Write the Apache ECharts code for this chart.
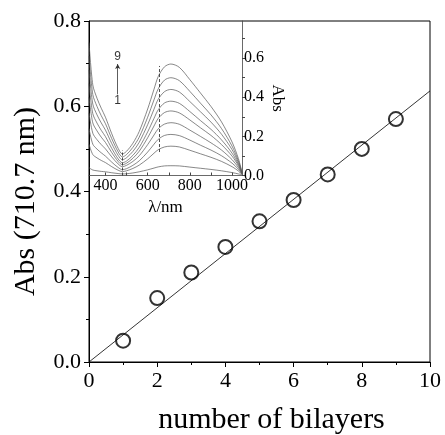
<!DOCTYPE html>
<html><head><meta charset="utf-8">
<script src="https://cdn.jsdelivr.net/npm/echarts@6/dist/echarts.min.js"></script>
<style>html,body{margin:0;padding:0;background:#fff}#c{width:445px;height:435px}</style>
</head><body><div id="c"></div>
<script>
// Main plot data
const bilayers = [1, 2, 3, 4, 5, 6, 7, 8, 9];
const absAt710 = [0.05, 0.15, 0.21, 0.27, 0.33, 0.38, 0.44, 0.50, 0.57];
const fitLine = [[0, 0], [10, 0.636]];

// Inset spectra data
const wavelengths = [322, 340, 360, 380, 400, 430, 460, 480, 500, 530, 560, 600, 630, 650, 680, 710, 750, 800, 850, 900, 950, 1000, 1030, 1047];
const spec1 = [0.040,0.028,0.024,0.021,0.019,0.014,0.010,0.008, 0.009,0.013,0.019,0.029,0.038,0.044,0.049,0.050, 0.049,0.043,0.037,0.031,0.024,0.015,0.008,0.004];
const spec2 = [0.160,0.107,0.090,0.077,0.066,0.045,0.027,0.020, 0.024,0.036,0.053,0.085,0.114,0.132,0.146,0.150, 0.146,0.129,0.111,0.093,0.072,0.045,0.023,0.005];
const spec3 = [0.240,0.160,0.135,0.116,0.099,0.068,0.041,0.030, 0.035,0.052,0.075,0.120,0.160,0.185,0.205,0.210, 0.204,0.181,0.155,0.130,0.101,0.063,0.032,0.006];
const spec4 = [0.320,0.216,0.183,0.158,0.136,0.095,0.059,0.045, 0.052,0.072,0.101,0.158,0.207,0.239,0.263,0.270, 0.262,0.232,0.200,0.167,0.130,0.081,0.041,0.008];
const spec5 = [0.400,0.269,0.228,0.196,0.169,0.117,0.072,0.055, 0.063,0.088,0.124,0.193,0.253,0.292,0.322,0.330, 0.320,0.284,0.244,0.205,0.158,0.099,0.050,0.010];
const spec6 = [0.470,0.316,0.268,0.231,0.199,0.138,0.085,0.065, 0.074,0.103,0.144,0.223,0.292,0.336,0.371,0.380, 0.369,0.327,0.281,0.236,0.182,0.114,0.057,0.011];
const spec7 = [0.540,0.365,0.310,0.269,0.232,0.163,0.103,0.080, 0.091,0.123,0.170,0.260,0.339,0.390,0.429,0.440, 0.427,0.378,0.326,0.273,0.211,0.132,0.066,0.013];
const spec8 = [0.610,0.414,0.353,0.306,0.265,0.188,0.121,0.095, 0.107,0.144,0.196,0.298,0.387,0.443,0.488,0.500, 0.485,0.430,0.370,0.310,0.240,0.150,0.075,0.015];
const spec9 = [0.680,0.463,0.395,0.344,0.298,0.213,0.139,0.110, 0.124,0.165,0.225,0.340,0.441,0.506,0.556,0.570, 0.553,0.490,0.422,0.353,0.274,0.171,0.086,0.017];
const spectra = [spec1, spec2, spec3, spec4, spec5, spec6, spec7, spec8, spec9];
const insetXLabels = [400, 600, 800, 1000];
const insetXTicks = [400, 500, 600, 700, 800, 900, 1000];
const insetYLabels = [0.0, 0.2, 0.4, 0.6];
const insetYTicks = [0.0, 0.1, 0.2, 0.3, 0.4, 0.5, 0.6, 0.7];
const arrowX = 458;
const arrowFrom = 0.415, arrowTo = 0.57;
const labelTop = {x: 458, y: 0.61, text: '9'};
const labelBottom = {x: 458, y: 0.38, text: '1'};

const serif = '"Liberation Serif", "Times New Roman", serif';
const chart = echarts.init(document.getElementById('c'));

const spectraSeries = spectra.map((s, i) => ({
  type: 'line', xAxisIndex: 1, yAxisIndex: 1, smooth: 0.3, symbol: 'none',
  data: wavelengths.map((w, j) => [w, s[j]]),
  lineStyle: {color: '#555', width: 0.7}, silent: true, z: 3
}));

chart.setOption({
  animation: false,
  backgroundColor: '#fff',
  grid: [
    {left: 89, top: 21, width: 341, height: 341, show: true, borderColor: '#000', borderWidth: 1, backgroundColor: 'transparent', outerBoundsMode: 'none', containLabel: false},
    {left: 89, top: 21, width: 153, height: 154.5, outerBoundsMode: 'none', containLabel: false}
  ],
  xAxis: [
    {
      type: 'value', gridIndex: 0, min: 0, max: 10, interval: 2,
      name: 'number of bilayers', nameLocation: 'middle', nameGap: 43,
      nameTextStyle: {fontFamily: serif, fontSize: 30, color: '#000', padding: [0, 0, 0, 24]},
      axisLine: {lineStyle: {color: '#000', width: 1}},
      axisTick: {show: true, inside: false, length: 5, lineStyle: {color: '#000'}},
      minorTick: {show: true, splitNumber: 2, length: 3, lineStyle: {color: '#000'}},
      axisLabel: {fontFamily: serif, fontSize: 22, color: '#000', margin: 8},
      splitLine: {show: false}
    },
    {
      type: 'value', gridIndex: 1, min: 322, max: 1047, position: 'bottom',
      name: 'λ/nm', nameLocation: 'middle', nameGap: 24,
      nameTextStyle: {fontFamily: serif, fontSize: 17, color: '#000'},
      axisLine: {lineStyle: {color: '#444', width: 0.8}},
      axisTick: {show: true, inside: true, length: 3, customValues: insetXTicks, lineStyle: {color: '#444'}},
      axisLabel: {fontFamily: serif, fontSize: 16, color: '#000', margin: 2, customValues: insetXLabels, formatter: v => String(v)},
      splitLine: {show: false}
    }
  ],
  yAxis: [
    {
      type: 'value', gridIndex: 0, min: 0, max: 0.8, interval: 0.2,
      name: 'Abs (710.7 nm)', nameLocation: 'middle', nameGap: 48, nameRotate: 90,
      nameTextStyle: {fontFamily: serif, fontSize: 30, color: '#000', padding: [0, 20, 0, 0]},
      axisLine: {lineStyle: {color: '#000', width: 1}},
      axisTick: {show: true, inside: false, length: 5, lineStyle: {color: '#000'}},
      minorTick: {show: true, splitNumber: 2, length: 3, lineStyle: {color: '#000'}},
      axisLabel: {fontFamily: serif, fontSize: 22, color: '#000', margin: 8, formatter: v => v.toFixed(1)},
      splitLine: {show: false}
    },
    {
      type: 'value', gridIndex: 1, min: 0, max: 0.79, position: 'right',
      name: 'Abs', nameLocation: 'middle', nameGap: 27, nameRotate: -90,
      nameTextStyle: {fontFamily: serif, fontSize: 17, color: '#000'},
      axisLine: {show: true, lineStyle: {color: '#444', width: 0.8}},
      axisTick: {show: true, inside: false, length: 3, customValues: insetYTicks, lineStyle: {color: '#444'}},
      axisLabel: {fontFamily: serif, fontSize: 16, color: '#000', margin: 2, customValues: insetYLabels, formatter: v => v.toFixed(1)},
      splitLine: {show: false}
    }
  ],
  series: [
    {
      type: 'line', xAxisIndex: 0, yAxisIndex: 0, data: fitLine, symbol: 'none',
      lineStyle: {color: '#000', width: 0.8}, silent: true, z: 2
    },
    {
      type: 'scatter', xAxisIndex: 0, yAxisIndex: 0,
      data: bilayers.map((b, i) => [b, absAt710[i]]),
      symbol: 'circle', symbolSize: 14,
      itemStyle: {color: 'transparent', borderColor: '#000', borderWidth: 2}, z: 4
    },
    ...spectraSeries,
    {
      type: 'scatter', xAxisIndex: 1, yAxisIndex: 1, symbolSize: 0,
      data: [[labelTop.x, labelTop.y, labelTop.text], [labelBottom.x, labelBottom.y, labelBottom.text]],
      label: {show: true, position: 'inside', formatter: p => p.value[2], fontFamily: '"Liberation Sans", Arial, sans-serif', fontSize: 12, color: '#000'},
      markLine: {
        silent: true, symbol: ['none', 'arrow'], symbolSize: [4, 5], label: {show: false},
        lineStyle: {color: '#333', width: 0.8, type: 'solid'},
        data: [[{coord: [arrowX, arrowFrom]}, {coord: [arrowX, arrowTo]}]]
      }
    },
    {
      type: 'line', xAxisIndex: 1, yAxisIndex: 1, data: [], symbol: 'none',
      markLine: {
        silent: true, symbol: 'none', label: {show: false},
        lineStyle: {color: '#222', width: 0.8, type: [3, 2]},
        data: [
          [{coord: [480, 0.0]}, {coord: [480, 0.13]}],
          [{coord: [655, 0.12]}, {coord: [655, 0.56]}]
        ]
      }
    }
  ]
});
</script></body></html>
